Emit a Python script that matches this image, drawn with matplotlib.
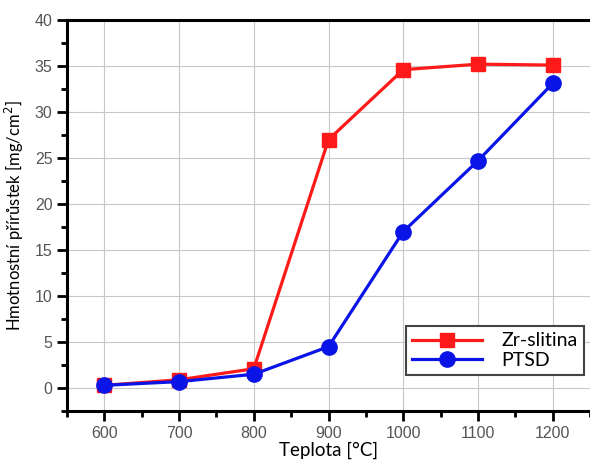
import matplotlib
matplotlib.use("Agg")
import matplotlib.pyplot as plt
from matplotlib.ticker import MultipleLocator

# data
teploty = [600, 700, 800, 900, 1000, 1100, 1200]
zr_slitina = [0.3, 0.9, 2.1, 27.0, 34.6, 35.2, 35.1]
ptsd = [0.3, 0.7, 1.5, 4.5, 17.0, 24.7, 33.1]

fig = plt.figure(figsize=(5.9, 4.65), dpi=100)
ax = fig.add_axes([0.1136, 0.116, 0.8864, 0.841])

ax.plot(teploty, zr_slitina, color="#ff1a1a", lw=2.3, marker="s", ms=10,
        label="Zr-slitina", zorder=3)
ax.plot(teploty, ptsd, color="#0a14e6", lw=2.3, marker="o", ms=11,
        label="PTSD", zorder=3)

ax.set_xlim(550, 1250)
ax.set_ylim(-2.5, 40)
ax.xaxis.set_major_locator(MultipleLocator(100))
ax.xaxis.set_minor_locator(MultipleLocator(50))
ax.yaxis.set_major_locator(MultipleLocator(5))
ax.yaxis.set_minor_locator(MultipleLocator(2.5))
ax.grid(True, which="major", color="#c8c8c8", lw=0.8)

for s in ["left", "top", "bottom"]:
    ax.spines[s].set_linewidth(2.2)
ax.spines["right"].set_visible(False)
ax.tick_params(which="major", length=7, width=2, direction="out",
               labelsize=11.5, labelcolor="#555555")
ax.tick_params(which="minor", length=4, width=2, direction="out")
for lab in ax.get_xticklabels() + ax.get_yticklabels():
    lab.set_family("Liberation Sans")

ax.set_xlabel("Teplota [°C]", family="Lato", fontsize=13.5, labelpad=1)
ax.set_ylabel("Hmotnostní přírůstek [mg/cm$^2$]", family="Lato", fontsize=12,
              labelpad=6)

leg = ax.legend(loc="lower right", bbox_to_anchor=(0.988, 0.092),
                fancybox=False, framealpha=1, edgecolor="#444444",
                handlelength=3.6, handletextpad=1.0, borderpad=0.3,
                borderaxespad=0, labelspacing=0.15,
                prop={"family": "Lato", "size": 14})
leg.get_frame().set_linewidth(1.5)

fig.savefig("out.png", dpi=100)
